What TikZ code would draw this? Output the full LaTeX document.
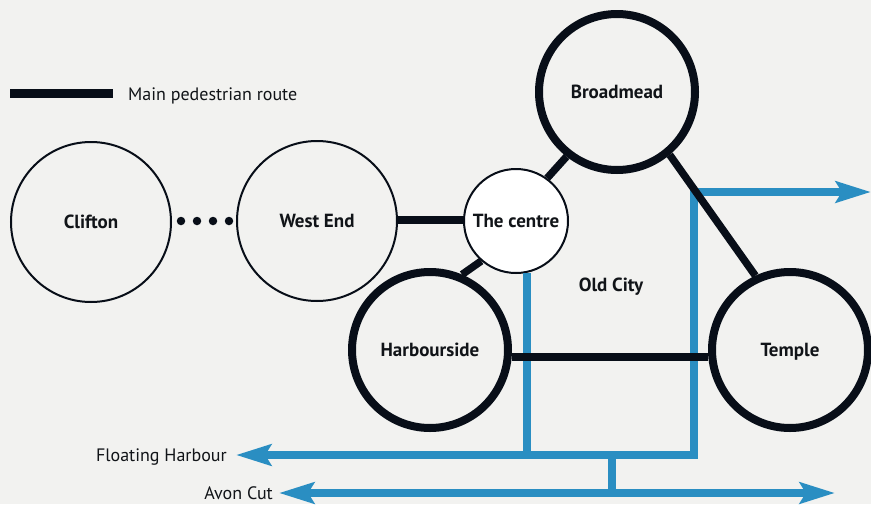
\documentclass[tikz,border=0pt]{standalone}
\usepackage{fontspec}
\setmainfont{PT Sans}
\usetikzlibrary{arrows.meta}
\definecolor{ink}{HTML}{080E18}
\definecolor{river}{HTML}{2A8EC2}
\definecolor{bg}{HTML}{F2F2F0}
\definecolor{txt}{HTML}{111418}
\tikzset{wtip/.tip={Stealth[length=35pt,width=21pt,inset=6pt]}}
\begin{document}
\begin{tikzpicture}[x=1pt,y=-1pt,
  lbl/.style={font=\bfseries\fontsize{19}{21}\selectfont,text=txt,text depth=0pt},
  thinarea/.style={circle,draw=ink,line width=2pt,minimum size=160pt,inner sep=0pt,lbl},
  thickarea/.style={circle,draw=ink,line width=8pt,minimum size=156pt,inner sep=0pt,lbl},
  hubarea/.style={circle,draw=ink,fill=white,line width=2pt,minimum size=104pt,inner sep=0pt,lbl},
  dotnode/.style={circle,fill=ink,minimum size=8.5pt,inner sep=0pt},
  route/.style={draw=ink,line width=8pt},
  water/.style={draw=river,line width=7.5pt},
  plain/.style={font=\fontsize{18}{21}\selectfont,text=txt,inner sep=0pt}
]
\useasboundingbox (0,0) rectangle (871,504);
\fill[bg] (0,0) rectangle (871,504);

% legend
\coordinate (lg1) at (10,93);
\coordinate (lg2) at (113,93);
\draw[route,line width=9pt] (lg1) -- (lg2);
\node[plain,anchor=base west] (lgt) at (128,100) {Main pedestrian route};

% areas
\node[thinarea] (cl) at (91,222) {Clifton};
\node[thinarea] (we) at (317,221) {West End};
\node[hubarea] (tc) at (516,221) {The centre};
\node[thickarea] (bm) at (617,92) {Broadmead};
\node[thickarea] (hb) at (430,350) {Harbourside};
\node[thickarea] (tp) at (790,350) {Temple};
\node[lbl] (oc) at (611,285) {Old City};

% dots
\node[dotnode] (d1) at (181,221) {};
\node[dotnode] (d2) at (197,221) {};
\node[dotnode] (d3) at (213,221) {};
\node[dotnode] (d4) at (229,221) {};

% water
\coordinate (fhTip) at (236,455);
\coordinate (fhR) at (694,455);
\coordinate (eTip) at (871,192);
\coordinate (acL) at (279,493);
\coordinate (acR) at (835,493);
\coordinate (mid) at (612,455);
\draw[water,{wtip}-{wtip}] (fhTip) -- (fhR) |- (eTip);
\draw[water] (tc.-78) -- (tc.-78 |- fhR);
\draw[water] (mid) -- (mid |- acL);
\draw[water,{wtip}-{wtip}] (acL) -- (acR);

% floating harbour labels
\node[plain,anchor=base east] (fht) at (227,461) {Floating Harbour};
\node[plain,anchor=base east] (act) at (273,499) {Avon Cut};

% pedestrian routes
\draw[route] (we.east |- 0,220) -- (tc.west |- 0,220);
\draw[route,line width=7.5pt] (hb.67) -- (tc.229);
\draw[route,line width=7.5pt] (tc.54) -- (bm.232);
\draw[route,line width=7.5pt] (bm.-50) -- (tp.115);
\draw[route] (hb.-5) -- (tp.185);
\end{tikzpicture}
\end{document}
